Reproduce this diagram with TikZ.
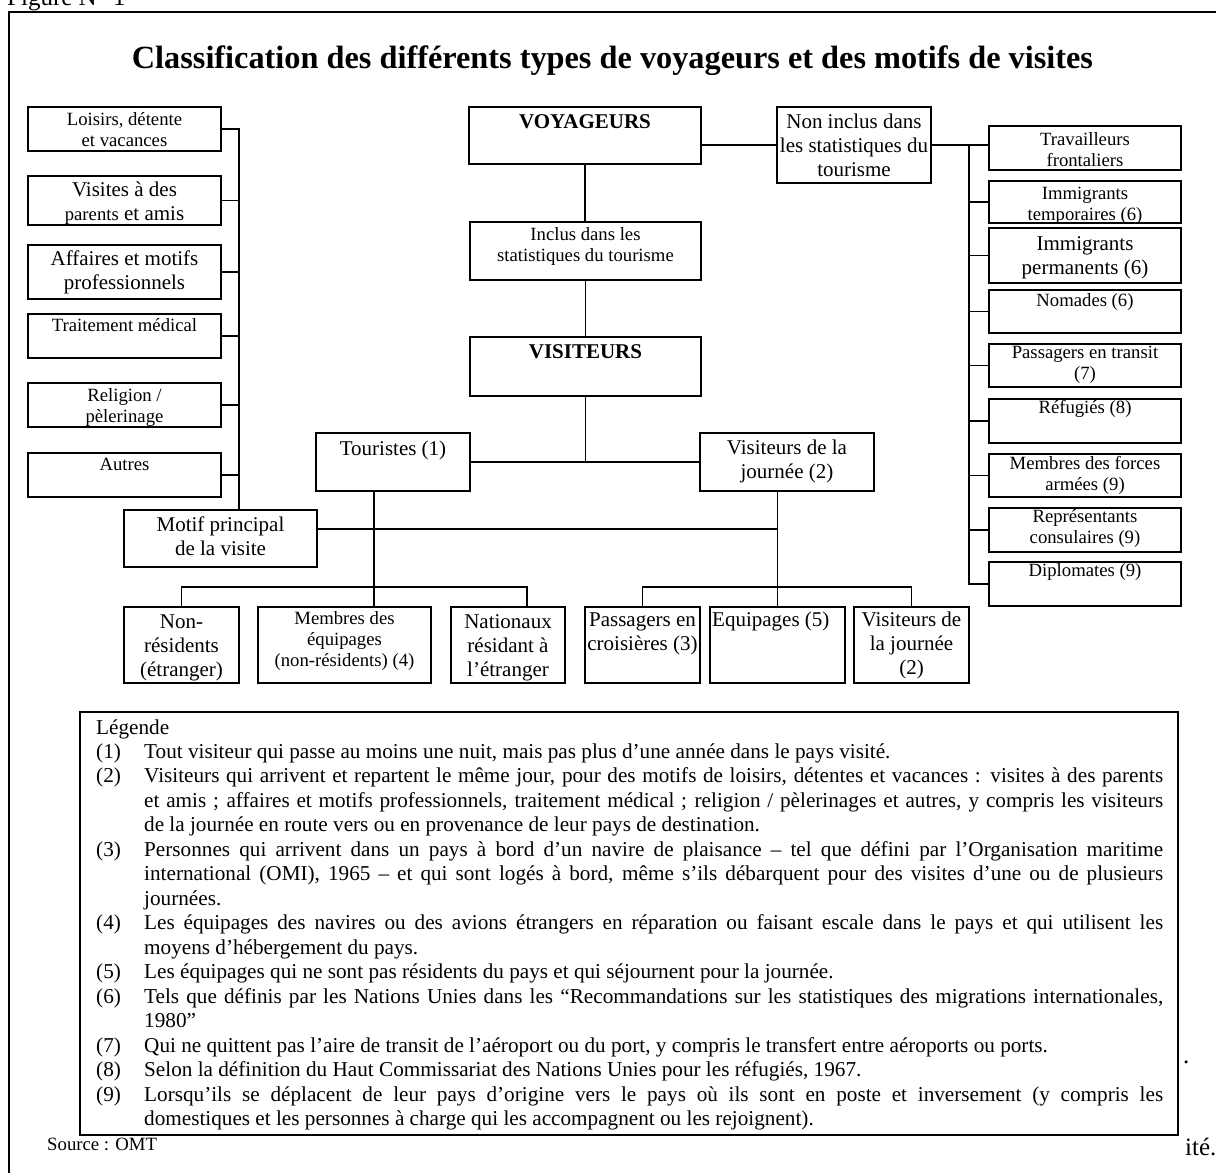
\documentclass[tikz,border=0pt]{standalone}
\usepackage{fontspec}
\setmainfont{Liberation Serif}
\newcommand{\fS}{\fontsize{18.7}{21}\selectfont}
\newcommand{\fL}{\fontsize{21}{24}\selectfont}
\newcommand{\fLeg}{\fontsize{21.2}{24.47}\selectfont}
\newcommand{\fBody}{\fontsize{25}{29}\selectfont}
\newcommand{\fSrc}{\fontsize{18.75}{22}\selectfont}
\tikzset{
  box/.style={draw, line width=1.6pt, inner sep=0pt},
  conn/.style={line width=1.5pt, line cap=rect},
  tS/.style={anchor=base, inner sep=0pt, font=\fS},
  tL/.style={anchor=base, inner sep=0pt, font=\fL},
  tBd/.style={anchor=base, inner sep=0pt, font=\fL\bfseries},
}
\newcommand{\bx}[5]{\node[box, minimum width={(#4-#2)*1pt}, minimum height={(#5-#3)*1pt}] (#1) at ({(#2+#4)/2},{(#3+#5)/2}) {};}
\newcommand{\bt}[4]{\node[#2] (#1-t) at (#1.north |- 0,#3) {\parbox[t]{300pt}{\centering #4}};}
\newcommand{\LJ}[2]{\hbox{\makebox[48pt][l]{#1}\makebox[1019pt][s]{#2}}}
\newcommand{\LR}[2]{\hbox{\makebox[48pt][l]{#1}#2}}
\begin{document}
\begin{tikzpicture}[x=1pt, y=-1pt]
\clip (0,0) rectangle (1216,1173);
% outer frame
\draw[line width=2pt] (9,1200) -- (9,11.5) -- (1240,11.5);
\node[anchor=base west, inner sep=0pt, font=\fBody] (fig) at (7,5) {Figure N° 1};
\node[anchor=base, inner sep=0pt, font=\fontsize{32.3}{38}\selectfont\bfseries] (title) at (612.5,68) {Classification des différents types de voyageurs et des motifs de visites};

% left column
\bx{loisirs}{28}{107}{221}{151}
\bx{visites}{28}{176}{221}{225}
\bx{affaires}{28}{245}{221}{299}
\bx{traitement}{28}{314}{221}{358}
\bx{religion}{28}{383}{221}{427}
\bx{autres}{28}{453}{221}{497}
\bt{loisirs}{tS}{125.5}{Loisirs, détente\\et vacances}
\bt{visites}{tL}{196.7}{Visites à des\\{\fS parents} et amis}
\bt{affaires}{tL}{265.7}{Affaires et motifs\\professionnels}
\bt{traitement}{tS}{331}{Traitement médical}
\bt{religion}{tS}{401.7}{Religion /\\pèlerinage}
\bt{autres}{tS}{470}{Autres}

% centre
\bx{voyageurs}{469}{107}{701}{164}
\bx{inclus}{470}{222}{701}{280}
\bx{visiteurs}{470}{337}{701}{396}
\bx{noninclus}{777}{107}{931}{183}
\bt{voyageurs}{tBd}{128.3}{VOYAGEURS}
\bt{inclus}{tS}{240.7}{Inclus dans les\\statistiques du tourisme}
\bt{visiteurs}{tBd}{358.3}{VISITEURS}
\bt{noninclus}{tL}{128}{Non inclus dans\\les statistiques du\\tourisme}

% right column
\bx{travailleurs}{989}{126}{1181}{170}
\bx{temporaires}{989}{181}{1181}{223}
\bx{permanents}{989}{228}{1181}{283}
\bx{nomades}{989}{290}{1181}{333}
\bx{transit}{989}{344}{1181}{387}
\bx{refugies}{989}{399}{1181}{443}
\bx{forces}{989}{454}{1181}{497}
\bx{consulaires}{989}{508}{1181}{552}
\bx{diplomates}{989}{562}{1181}{606}
\bt{travailleurs}{tS}{145}{Travailleurs\\frontaliers}
\bt{temporaires}{tS}{199}{Immigrants\\temporaires (6)}
\bt{permanents}{tL}{250}{Immigrants\\permanents (6)}
\bt{nomades}{tS}{306.7}{Nomades (6)}
\bt{transit}{tS}{358.3}{Passagers en transit\\(7)}
\bt{refugies}{tS}{413.3}{Réfugiés (8)}
\bt{forces}{tS}{469.3}{Membres des forces\\armées (9)}
\bt{consulaires}{tS}{522.7}{Représentants\\consulaires (9)}
\bt{diplomates}{tS}{576}{Diplomates (9)}

% middle level
\bx{touristes}{316}{433}{470}{491}
\bx{vj}{700}{433}{874}{491}
\bx{motif}{124}{510}{317}{567}
\bt{touristes}{tL}{455}{Touristes (1)}
\bt{vj}{tL}{454}{Visiteurs de la\\journée (2)}
\bt{motif}{tL}{531.7}{Motif principal\\de la visite}

% bottom row
\bx{nonres}{124}{607}{239}{683}
\bx{membres}{258}{607}{431}{683}
\bx{nationaux}{451}{607}{565}{683}
\bx{crois}{585}{607}{700}{683}
\bx{equip}{710}{607}{845}{683}
\bx{vjb}{854}{607}{969}{683}
\bt{nonres}{tL}{628.3}{Non-\\résidents\\(étranger)}
\bt{membres}{tS}{624.3}{Membres des\\équipages\\(non-résidents) (4)}
\bt{nationaux}{tL}{628.3}{Nationaux\\résidant à\\l’étranger}
\bt{crois}{tL}{626.7}{Passagers en\\croisières (3)}
\node[anchor=base west, inner sep=0pt, font=\fL] (equip-t) at (712,626.7) {Equipages (5)};
\bt{vjb}{tL}{626.7}{Visiteurs de\\la journée\\(2)}

% connectors: left bus
\coordinate (lbus) at (239,510);
\foreach \b in {loisirs,visites,affaires,traitement,religion,autres}
  \draw[conn] (\b.east) -- (\b.east -| lbus);
\draw[conn] (loisirs.east -| lbus) -- (lbus);

% connectors: centre spine
\draw[conn] (voyageurs.south) -- (voyageurs.south |- inclus.north);
\draw[conn] (inclus.south) -- (inclus.south |- visiteurs.north);
\draw[conn] (noninclus.west) -- (noninclus.west -| voyageurs.east);

% connectors: right bus
\coordinate (rbus) at (969,586);
\draw[conn] (noninclus.east) -- (noninclus.east -| travailleurs.west);
\draw[conn] (noninclus.east -| rbus) -- (diplomates.west -| rbus);
\foreach \b in {temporaires,permanents,nomades,transit,refugies,forces,consulaires,diplomates}
  \draw[conn] (\b.west) -- (\b.west -| rbus);

% visiteurs split
\draw[conn] (touristes.east) -- (vj.west);
\draw[conn] (visiteurs.south) -- (visiteurs.south |- touristes.east);

% motif line
\draw[conn] ([yshift=9.5pt]motif.east) -- ([yshift=9.5pt]motif.east -| equip.north);

% touristes tree
\coordinate (tdrop) at (374,491);
\coordinate (natTop) at (527,607);
\draw[conn] (tdrop) -- (tdrop |- membres.north);
\draw[conn] (nonres.north) |- (tdrop |- 0,587) -| (natTop);

% visiteurs de la journee tree
\draw[conn] (equip.north |- vj.south) -- (equip.north);
\draw[conn] (crois.north) |- (equip.north |- 0,587) -| (vjb.north);

% stray text fragments at right
\node[anchor=base west, inner sep=0pt, font=\fBody] (dot) at (1183,1063) {.};
\node[anchor=base west, inner sep=0pt, font=\fBody] (ite) at (1185,1155) {ité.};

% legend
\node[draw, line width=1.8pt, fill=white, inner sep=0pt, minimum width=1098pt, minimum height=423pt] (legend) at (629,923.5) {};
\node[anchor=base west, inner sep=0pt, font=\fLeg] (legtext) at (96,734) {\parbox[t]{1067pt}{\lineskiplimit=-100pt\lineskip=0pt\baselineskip=24.47pt
\hbox{Légende}
\LR{(1)}{Tout visiteur qui passe au moins une nuit, mais pas plus d’une année dans le pays visité.}
\LJ{(2)}{Visiteurs qui arrivent et repartent le même jour, pour des motifs de loisirs, détentes et vacances : visites à des parents}
\LJ{}{et amis ; affaires et motifs professionnels, traitement médical ; religion / pèlerinages et autres, y compris les visiteurs}
\LR{}{de la journée en route vers ou en provenance de leur pays de destination.}
\LJ{(3)}{Personnes qui arrivent dans un pays à bord d’un navire de plaisance – tel que défini par l’Organisation maritime}
\LJ{}{international (OMI), 1965 – et qui sont logés à bord, même s’ils débarquent pour des visites d’une ou de plusieurs}
\LR{}{journées.}
\LJ{(4)}{Les équipages des navires ou des avions étrangers en réparation ou faisant escale dans le pays et qui utilisent les}
\LR{}{moyens d’hébergement du pays.}
\LR{(5)}{Les équipages qui ne sont pas résidents du pays et qui séjournent pour la journée.}
\LJ{(6)}{Tels que définis par les Nations Unies dans les “Recommandations sur les statistiques des migrations internationales,}
\LR{}{1980”}
\LR{(7)}{Qui ne quittent pas l’aire de transit de l’aéroport ou du port, y compris le transfert entre aéroports ou ports.}
\LR{(8)}{Selon la définition du Haut Commissariat des Nations Unies pour les réfugiés, 1967.}
\LJ{(9)}{Lorsqu’ils se déplacent de leur pays d’origine vers le pays où ils sont en poste et inversement (y compris les}
\LR{}{domestiques et les personnes à charge qui les accompagnent ou les rejoignent).}
}};
\node[anchor=base west, inner sep=0pt, font=\fSrc] (source) at (47,1150) {Source : OMT};
\end{tikzpicture}
\end{document}
